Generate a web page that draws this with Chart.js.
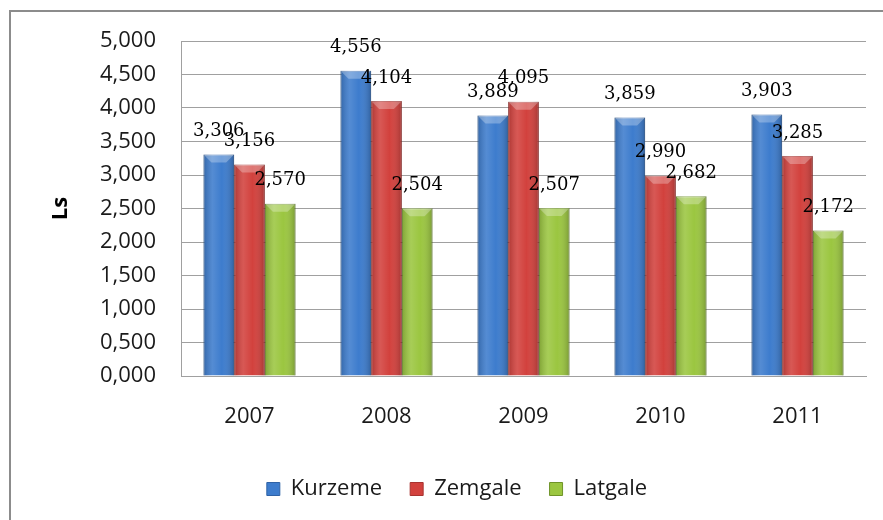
<!DOCTYPE html>
<html>
<head>
<meta charset="utf-8">
<script src="https://cdn.jsdelivr.net/npm/chart.js@4/dist/chart.umd.min.js"></script>
<style>
  html, body { margin: 0; padding: 0; background: #fff; }
</style>
</head>
<body>
<canvas id="chart" width="883" height="520"></canvas>
<script>
const years = ['2007', '2008', '2009', '2010', '2011'];
const kurzeme = [3.306, 4.556, 3.889, 3.859, 3.903];
const zemgale = [3.156, 4.104, 4.095, 2.990, 3.285];
const latgale = [2.570, 2.504, 2.507, 2.682, 2.172];
const yMax = 5;
const yStep = 0.5;

const fmt = v => v.toFixed(3).replace('.', ',');
const font = 'Open Sans';

// page frame (left and top edge)
const frame = {
  id: 'frame',
  beforeDraw(chart) {
    const ctx = chart.ctx;
    ctx.save();
    ctx.fillStyle = '#fff';
    ctx.fillRect(0, 0, chart.width, chart.height);
    ctx.strokeStyle = '#8c8c8c';
    ctx.lineWidth = 2;
    ctx.beginPath();
    ctx.moveTo(10, chart.height);
    ctx.lineTo(10, 11);
    ctx.lineTo(chart.width, 11);
    ctx.stroke();
    ctx.restore();
  }
};

// bevel shading on top of each bar
const bevel = {
  id: 'bevel',
  afterDatasetsDraw(chart) {
    const ctx = chart.ctx;
    ctx.save();
    chart.data.datasets.forEach((ds, i) => {
      chart.getDatasetMeta(i).data.forEach(bar => {
        const l = bar.x - bar.width / 2, r = bar.x + bar.width / 2;
        const t = bar.y, b = bar.base;
        const g = ctx.createLinearGradient(l, 0, r, 0);
        g.addColorStop(0, 'rgba(0,0,0,0.18)');
        g.addColorStop(0.3, 'rgba(255,255,255,0.12)');
        g.addColorStop(0.6, 'rgba(255,255,255,0)');
        g.addColorStop(1, 'rgba(0,0,0,0.22)');
        ctx.fillStyle = g;
        ctx.fillRect(l, t, r - l, b - t);
        ctx.fillStyle = 'rgba(255,255,255,0.28)';
        ctx.beginPath();
        ctx.moveTo(l, t);
        ctx.lineTo(r, t);
        ctx.lineTo(r - 8, t + 8);
        ctx.lineTo(l + 8, t + 8);
        ctx.closePath();
        ctx.fill();
      });
    });
    ctx.restore();
  }
};

// value labels above bars
const valueLabels = {
  id: 'valueLabels',
  afterDatasetsDraw(chart) {
    const ctx = chart.ctx;
    ctx.save();
    ctx.font = '18px "DejaVu Serif"';
    ctx.fillStyle = '#000';
    ctx.textAlign = 'center';
    ctx.textBaseline = 'middle';
    chart.data.datasets.forEach((ds, i) => {
      chart.getDatasetMeta(i).data.forEach((bar, j) => {
        ctx.fillText(fmt(ds.data[j]), bar.x, bar.y - 23);
      });
    });
    ctx.restore();
  }
};

new Chart(document.getElementById('chart'), {
  type: 'bar',
  data: {
    labels: years,
    datasets: [
      { label: 'Kurzeme', data: kurzeme, backgroundColor: '#3d7ccd', borderColor: '#2f62a6', borderWidth: 1 },
      { label: 'Zemgale', data: zemgale, backgroundColor: '#d2413d', borderColor: '#a83330', borderWidth: 1 },
      { label: 'Latgale', data: latgale, backgroundColor: '#9bc640', borderColor: '#6f9328', borderWidth: 1 }
    ]
  },
  options: {
    responsive: false,
    devicePixelRatio: 1,
    animation: false,
    layout: { padding: { top: 41, right: 17, bottom: 10, left: 48 } },
    datasets: { bar: { categoryPercentage: 0.672, barPercentage: 1 } },
    plugins: {
      tooltip: { enabled: false },
      legend: {
        position: 'bottom',
        labels: {
          font: { family: font, size: 22 },
          color: '#1a1a1a',
          boxWidth: 13,
          boxHeight: 13,
          padding: 28
        }
      }
    },
    scales: {
      x: {
        grid: { display: false, drawTicks: false },
        border: { color: '#a0a0a0' },
        ticks: { font: { family: font, size: 22 }, color: '#1a1a1a', padding: 28 },
        afterFit(scale) { scale.height = 74; }
      },
      y: {
        min: 0,
        max: yMax,
        grid: { color: '#a0a0a0', drawTicks: false },
        border: { color: '#a0a0a0' },
        ticks: {
          stepSize: yStep,
          font: { family: font, size: 22 },
          color: '#1a1a1a',
          padding: 25,
          callback: v => fmt(v)
        },
        title: {
          display: true,
          text: 'Ls',
          font: { family: font, size: 22, weight: 'bold' },
          color: '#000',
          padding: { top: 0, bottom: 0 }
        },
        afterFit(scale) { scale.width = 133; }
      }
    }
  },
  plugins: [frame, bevel, valueLabels]
});
</script>
</body>
</html>
